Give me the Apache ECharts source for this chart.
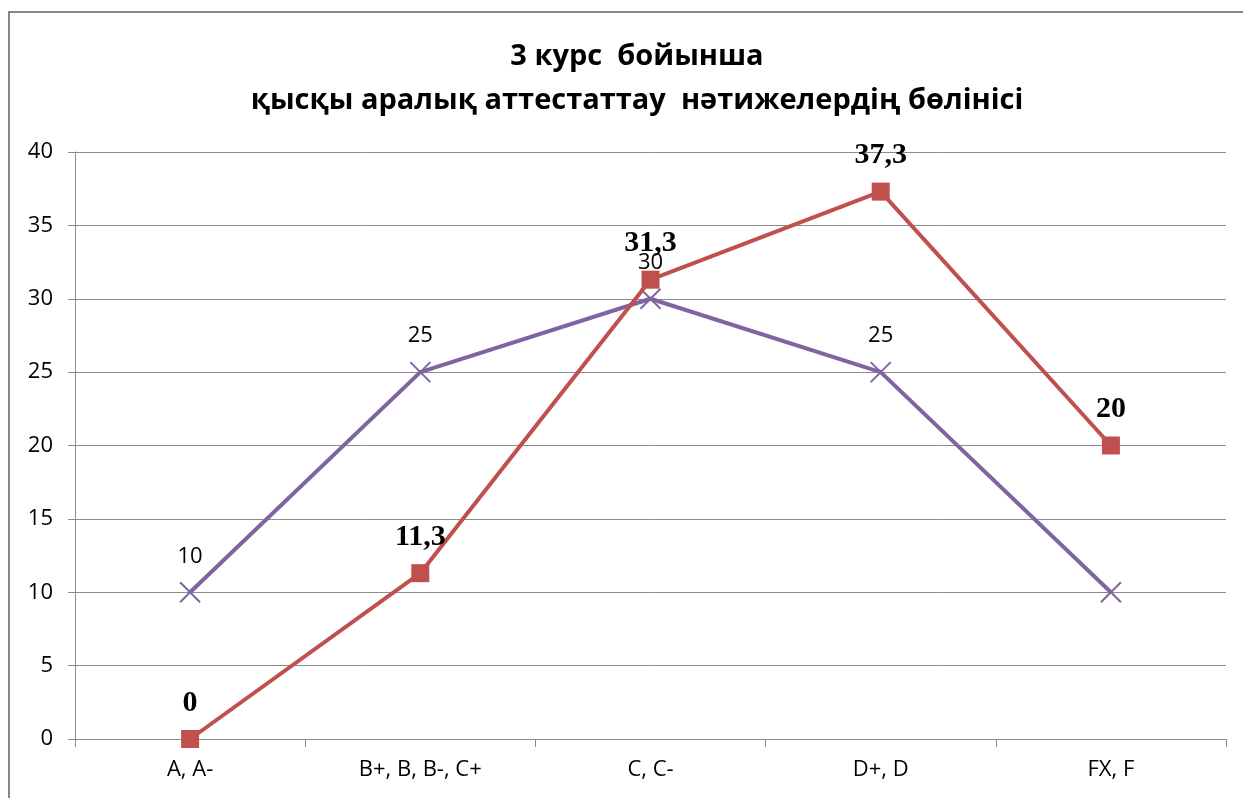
<!DOCTYPE html>
<html>
<head>
<meta charset="utf-8">
<script src="https://cdn.jsdelivr.net/npm/echarts@6/dist/echarts.min.js"></script>
<style>html,body{margin:0;padding:0;background:#fff}#c{width:1243px;height:798px}</style>
</head>
<body>
<div id="c"></div>
<script>
var categories = ['A, A-', 'B+, B, B-, C+', 'C, C-', 'D+, D', 'FX, F'];
var seriesPurple = [10, 25, 30, 25, 10];
var seriesRed = [0, 11.3, 31.3, 37.3, 20];
var yTicks = [0, 5, 10, 15, 20, 25, 30, 35, 40];
var titleLines = ['3 курс  бойынша', 'қысқы аралық аттестаттау  нәтижелердің бөлінісі'];

var chart = echarts.init(document.getElementById('c'), null, {renderer: 'canvas'});
function comma(v) { return String(v).replace('.', ','); }
var option = {
  animation: false,
  backgroundColor: '#ffffff',
  graphic: [{
    type: 'rect', shape: {x: 9, y: 12, width: 1260, height: 820},
    style: {fill: 'none', stroke: '#878787', lineWidth: 2}, silent: true
  }],
  title: {
    text: titleLines.join('\n'),
    left: 632, top: 30, textAlign: 'center',
    textStyle: {fontFamily: 'Open Sans', fontWeight: 'bold', fontSize: 29, lineHeight: 44, color: '#000'}
  },
  grid: {left: 75, right: 17, top: 152, bottom: 59, containLabel: false},
  xAxis: {
    type: 'category', data: categories, boundaryGap: true,
    axisLine: {lineStyle: {color: '#8c8c8c', width: 1}},
    axisTick: {show: true, length: 8, lineStyle: {color: '#8c8c8c'}},
    axisLabel: {color: '#000', fontFamily: 'Open Sans', fontSize: 22, margin: 20}
  },
  yAxis: {
    type: 'value', min: yTicks[0], max: yTicks[yTicks.length - 1], interval: 5,
    axisLine: {show: true, lineStyle: {color: '#8c8c8c', width: 1}},
    axisTick: {show: true, length: 7, lineStyle: {color: '#8c8c8c'}},
    axisLabel: {color: '#000', fontFamily: 'Open Sans', fontSize: 22, margin: 22},
    splitLine: {lineStyle: {color: '#8c8c8c', width: 1}}
  },
  series: [{
    name: 'purple', type: 'line', data: seriesPurple,
    symbol: 'path://M0,0 L10,10 M10,0 L0,10', symbolSize: 20,
    lineStyle: {color: '#8064A2', width: 4},
    itemStyle: {color: 'rgba(0,0,0,0)', borderColor: '#8064A2', borderWidth: 2},
    label: {
      show: true, position: 'top', distance: 14, color: '#000',
      fontFamily: 'Open Sans', fontSize: 22,
      formatter: function (p) { return p.dataIndex === 4 ? '' : comma(p.value); }
    },
    z: 2
  }, {
    name: 'red', type: 'line', data: seriesRed,
    symbol: 'rect', symbolSize: 18,
    lineStyle: {color: '#C0504D', width: 4},
    itemStyle: {color: '#C0504D'},
    label: {
      show: true, position: 'top', distance: 12, color: '#000',
      fontFamily: 'Liberation Serif', fontWeight: 'bold', fontSize: 30,
      formatter: function (p) { return comma(p.value); }
    },
    z: 3
  }]
};
chart.setOption(option);
</script>
</body>
</html>
